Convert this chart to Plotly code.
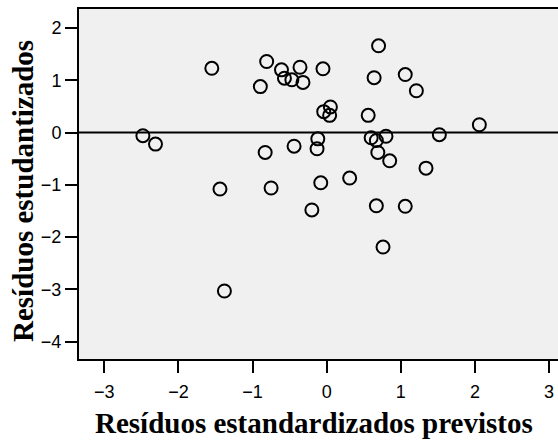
import plotly.graph_objects as go

# Standardized predicted residuals (x) vs studentized residuals (y)
pred_std = [-2.48, -2.31, -1.55, -1.44, -1.38, -0.895, -0.81, -0.83, -0.75, -0.61,
            -0.57, -0.47, -0.36, -0.32, -0.44, -0.20, -0.12, -0.13, -0.08, -0.05,
            -0.04, 0.05, 0.04, 0.31, 0.56, 0.60, 0.67, 0.80, 0.69, 0.85,
            0.64, 0.70, 0.67, 0.76, 1.06, 1.21, 1.06, 1.34, 1.52, 2.06]
stud_resid = [-0.06, -0.22, 1.23, -1.08, -3.03, 0.88, 1.36, -0.38, -1.06, 1.20,
              1.04, 1.01, 1.25, 0.96, -0.26, -1.48, -0.12, -0.31, -0.96, 1.22,
              0.40, 0.49, 0.33, -0.87, 0.33, -0.10, -0.15, -0.07, -0.38, -0.54,
              1.05, 1.66, -1.40, -2.19, 1.11, 0.80, -1.41, -0.68, -0.04, 0.15]

x_ticks = [-3, -2, -1, 0, 1, 2, 3]
y_ticks = [-4, -3, -2, -1, 0, 1, 2]

x_title = "Resíduos estandardizados previstos"
y_title = "Resíduos estudantizados"

fig = go.Figure()
fig.add_trace(go.Scatter(
    x=pred_std, y=stud_resid, mode="markers",
    marker=dict(symbol="circle-open", size=13, color="black",
                line=dict(color="black", width=2)),
    hoverinfo="x+y", showlegend=False,
))

# reference line at zero
fig.add_shape(type="line", xref="paper", x0=0, x1=1, yref="y", y0=0, y1=0,
              line=dict(color="black", width=2))

tick_font = dict(family="Liberation Sans, Arial", size=18, color="black")
axis_common = dict(showgrid=False, zeroline=False, showline=True, linecolor="black",
                   linewidth=2, ticks="outside", ticklen=12, tickwidth=2,
                   tickcolor="black", tickfont=tick_font, fixedrange=True)

fig.update_xaxes(range=[-3.342, 3.121], tickvals=x_ticks, mirror=True,
                 ticklabelstandoff=3, **axis_common)
fig.update_yaxes(range=[-4.331, 2.364], tickvals=y_ticks, mirror=False, **axis_common)

title_font = dict(family="Liberation Serif, Times New Roman", size=29, color="black")
fig.add_annotation(text=f"<b>{x_title}</b>", xref="paper", yref="paper",
                   x=0.49, y=-0.2343, xanchor="center", yanchor="bottom",
                   showarrow=False, font=title_font)
fig.add_annotation(text=f"<b>{y_title}</b>", xref="paper", yref="paper",
                   x=-0.1169, y=0.48, xanchor="center", yanchor="middle",
                   textangle=-90, showarrow=False, font=title_font)

fig.update_layout(
    width=558, height=441,
    margin=dict(l=79, r=0, t=9, b=82, autoexpand=False),
    paper_bgcolor="white", plot_bgcolor="#F0F0F0",
)

fig.write_html("out.html")
